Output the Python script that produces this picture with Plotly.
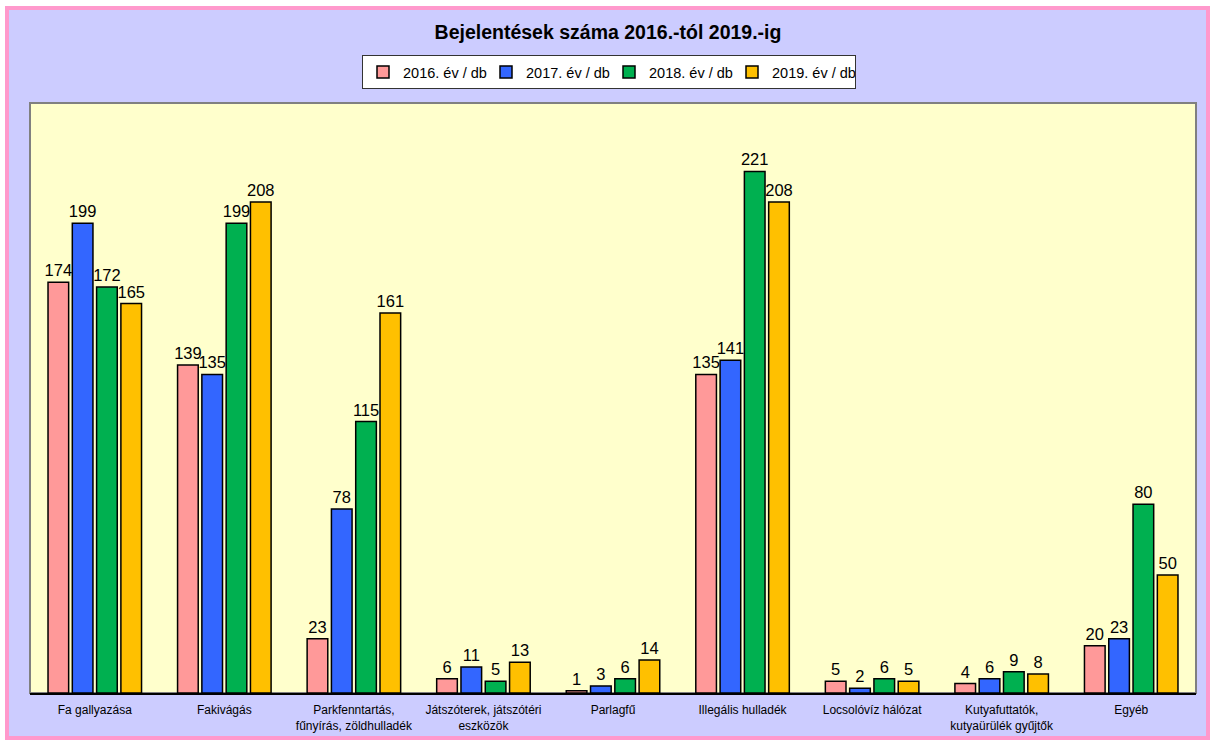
import plotly.graph_objects as go

categories = ["Fa gallyazása", "Fakivágás", "Parkfenntartás,<br>fűnyírás, zöldhulladék",
              "Játszóterek, játszótéri<br>eszközök", "Parlagfű", "Illegális hulladék",
              "Locsolóvíz hálózat", "Kutyafuttatók,<br>kutyaürülék gyűjtők", "Egyéb"]
series_names = ["2016. év / db", "2017. év / db", "2018. év / db", "2019. év / db"]
v2016 = [174, 139, 23, 6, 1, 135, 5, 4, 20]
v2017 = [199, 135, 78, 11, 3, 141, 2, 6, 23]
v2018 = [172, 199, 115, 5, 6, 221, 6, 9, 80]
v2019 = [165, 208, 161, 13, 14, 208, 5, 8, 50]
colors = ["#FF9999", "#3366FF", "#00B050", "#FFC000"]

W, H = 1210, 740
L, R, T, B = 30, 1196, 103, 693

def px(x):
    return (x - L) / (R - L)

def py(y):
    return (B - y) / (B - T)

fig = go.Figure()
for name, vals, col in zip(series_names, [v2016, v2017, v2018, v2019], colors):
    fig.add_trace(go.Bar(
        x=categories, y=vals, name=name,
        marker=dict(color=col, line=dict(color="black", width=1.5)),
        text=vals, textposition="outside", cliponaxis=False, constraintext="none",
        textfont=dict(family="Arial", size=16.5, color="black"),
    ))

fig.update_layout(
    width=W, height=H,
    margin=dict(l=L, r=W - R, t=T, b=H - B),
    paper_bgcolor="white",
    plot_bgcolor="#FFFFCC",
    barmode="group", bargap=0.25, bargroupgap=0.15,
    font=dict(family="Arial", size=12, color="black"),
    title=dict(text="<b>Bejelentések száma 2016.-tól 2019.-ig</b>",
               x=(608) / W, xanchor="center", y=1 - 32 / H, yanchor="middle",
               font=dict(family="Arial", size=19.5, color="black")),
    legend=dict(orientation="h", x=px(609), xanchor="center", y=py(55), yanchor="top",
                bgcolor="white", bordercolor="#333333", borderwidth=1,
                font=dict(family="Arial", size=14.5, color="black"),
                itemwidth=30, entrywidth=78, traceorder="normal"),
    xaxis=dict(showline=True, linecolor="black", linewidth=1.5, ticks="",
               ticklabelstandoff=5, automargin=False,
               tickfont=dict(family="Arial", size=12, color="black"), mirror=False),
    yaxis=dict(range=[0, 250], visible=False, showgrid=False, automargin=False),
    shapes=[
        dict(type="rect", xref="paper", yref="paper", layer="below",
             x0=px(7), x1=px(1208), y0=py(738), y1=py(8),
             line=dict(color="#FF99CC", width=4), fillcolor="#CCCCFF"),
        dict(type="rect", xref="paper", yref="paper", layer="below",
             x0=0, x1=1, y0=0, y1=1,
             line=dict(color="#808080", width=2), fillcolor="#FFFFCC"),
    ],
)

fig.write_html("out.html", config={"displayModeBar": False},
               post_script="document.body.style.margin='0';document.body.style.overflow='hidden';")
